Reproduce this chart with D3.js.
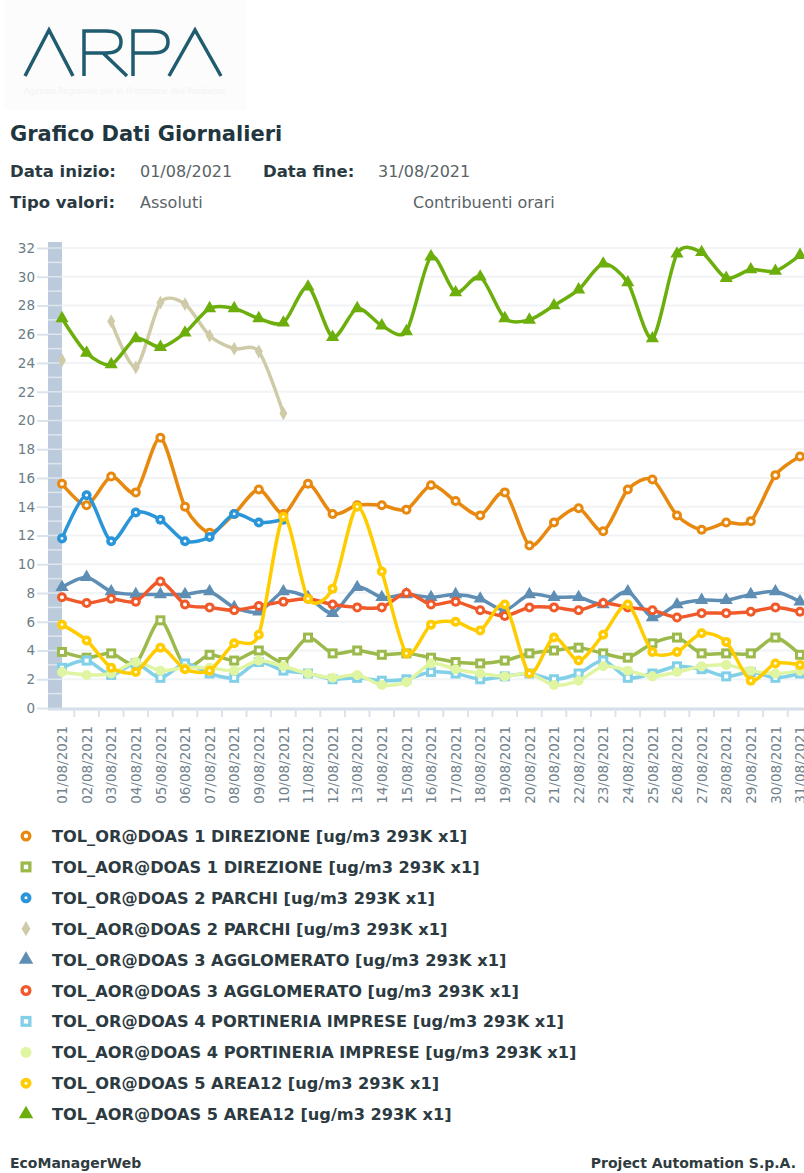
<!DOCTYPE html>
<html>
<head>
<meta charset="utf-8">
<script src="https://cdn.jsdelivr.net/npm/d3@7"></script>
<style>
  body { margin: 0; background: #fff; }
  svg { display: block; }
</style>
</head>
<body>
<svg id="chart" width="804" height="1173"></svg>
<script>
// ######################## Data #############################################
const dates = [
    "01/08/2021", "02/08/2021", "03/08/2021", "04/08/2021", "05/08/2021", "06/08/2021",
    "07/08/2021", "08/08/2021", "09/08/2021", "10/08/2021", "11/08/2021", "12/08/2021",
    "13/08/2021", "14/08/2021", "15/08/2021", "16/08/2021", "17/08/2021", "18/08/2021",
    "19/08/2021", "20/08/2021", "21/08/2021", "22/08/2021", "23/08/2021", "24/08/2021",
    "25/08/2021", "26/08/2021", "27/08/2021", "28/08/2021", "29/08/2021", "30/08/2021",
    "31/08/2021"
];
const yTicks = [0, 2, 4, 6, 8, 10, 12, 14, 16, 18, 20, 22, 24, 26, 28, 30, 32];

const torDirezione = [15.6, 14.1, 16.1, 15.0, 18.8, 14.0, 12.2, 13.5, 15.2, 13.5, 15.6, 13.5, 14.1, 14.1, 13.8, 15.5,
    14.4, 13.4, 15.0, 11.3, 12.9, 13.9, 12.3, 15.2, 15.9, 13.4, 12.4, 12.9, 13.0, 16.2, 17.5];
const taorDirezione = [3.9, 3.5, 3.8, 3.1, 6.1, 2.9, 3.7, 3.3, 4.0, 3.2, 4.9, 3.8, 4.0, 3.7, 3.8, 3.5,
    3.2, 3.1, 3.3, 3.8, 4.0, 4.2, 3.8, 3.5, 4.5, 4.9, 3.8, 3.8, 3.8, 4.9, 3.7];
const torParchi = [11.8, 14.8, 11.6, 13.6, 13.1, 11.6, 11.9, 13.5, 12.9, 13.1, null, null, null, null, null, null,
    null, null, null, null, null, null, null, null, null, null, null, null, null, null, null];
const taorParchi = [24.2, null, 26.9, 23.7, 28.2, 28.1, 25.9, 25.0, 24.8, 20.5, null, null, null, null, null, null,
    null, null, null, null, null, null, null, null, null, null, null, null, null, null, null];
const torAgglomerato = [8.4, 9.1, 8.1, 7.9, 7.9, 7.9, 8.1, 7.0, 6.7, 8.1, 7.7, 6.6, 8.4, 7.7, 7.9, 7.7,
    7.9, 7.6, 6.8, 7.9, 7.7, 7.7, 7.2, 8.1, 6.3, 7.2, 7.5, 7.5, 7.9, 8.1, 7.4];
const taorAgglomerato = [7.7, 7.3, 7.6, 7.4, 8.8, 7.2, 7.0, 6.8, 7.1, 7.4, 7.6, 7.2, 7.0, 7.0, 8.0, 7.2,
    7.4, 6.8, 6.4, 7.0, 7.0, 6.8, 7.3, 7.0, 6.8, 6.3, 6.6, 6.6, 6.7, 7.0, 6.7];
const torPortineria = [2.8, 3.3, 2.3, 3.1, 2.1, 3.1, 2.4, 2.1, 3.2, 2.6, 2.4, 2.0, 2.1, 1.9, 2.0, 2.5,
    2.4, 2.0, 2.2, 2.4, 2.0, 2.4, 3.3, 2.1, 2.4, 2.9, 2.7, 2.2, 2.5, 2.1, 2.4];
const taorPortineria = [2.5, 2.3, 2.4, 3.2, 2.6, 2.8, 2.8, 2.6, 3.3, 2.9, 2.4, 2.1, 2.3, 1.6, 1.8, 3.1,
    2.7, 2.4, 2.2, 2.4, 1.6, 1.9, 2.9, 2.6, 2.2, 2.5, 2.9, 3.0, 2.6, 2.4, 2.6];
const torArea12 = [5.8, 4.7, 2.8, 2.5, 4.2, 2.7, 2.6, 4.5, 5.1, 13.3, 7.6, 8.3, 14.0, 9.5, 3.8, 5.8,
    6.0, 5.4, 7.2, 2.4, 4.9, 3.3, 5.1, 7.2, 3.9, 3.9, 5.2, 4.6, 1.9, 3.1, 3.0];
const taorArea12 = [27.1, 24.7, 23.9, 25.7, 25.1, 26.1, 27.8, 27.8, 27.1, 26.8, 29.3, 25.8, 27.8, 26.6, 26.2, 31.4,
    28.9, 30.0, 27.1, 27.0, 28.0, 29.1, 30.9, 29.6, 25.7, 31.6, 31.7, 29.9, 30.5, 30.4, 31.5];

const seriesNames = [
    "TOL_OR@DOAS 1 DIREZIONE [ug/m3 293K x1]",
    "TOL_AOR@DOAS 1 DIREZIONE [ug/m3 293K x1]",
    "TOL_OR@DOAS 2 PARCHI [ug/m3 293K x1]",
    "TOL_AOR@DOAS 2 PARCHI [ug/m3 293K x1]",
    "TOL_OR@DOAS 3 AGGLOMERATO [ug/m3 293K x1]",
    "TOL_AOR@DOAS 3 AGGLOMERATO [ug/m3 293K x1]",
    "TOL_OR@DOAS 4 PORTINERIA IMPRESE [ug/m3 293K x1]",
    "TOL_AOR@DOAS 4 PORTINERIA IMPRESE [ug/m3 293K x1]",
    "TOL_OR@DOAS 5 AREA12 [ug/m3 293K x1]",
    "TOL_AOR@DOAS 5 AREA12 [ug/m3 293K x1]"
];
const seriesValues = [torDirezione, taorDirezione, torParchi, taorParchi, torAgglomerato,
    taorAgglomerato, torPortineria, taorPortineria, torArea12, taorArea12];
const seriesColors = ["#e8890f", "#9cba4c", "#2a95d8", "#cfcba8", "#5e8eb4",
    "#f05a2a", "#82d0e8", "#e0f5a2", "#ffcc00", "#6cae0c"];
const seriesMarkers = ["ring", "ringSquare", "dot", "diamond", "triangle",
    "ring", "ringSquare", "circle", "dot", "triangle"];

// ######################## Drawing ##########################################
const font = "DejaVu Sans";
const svg = d3.select("#chart");

// --- logo
const logo = svg.append("g");
logo.append("rect").attr("x", 4).attr("y", 0).attr("width", 242).attr("height", 110).attr("fill", "#fcfcfc");
const logoPaths = [
    "M25,76 L49,30 L73,76",
    "M84,76 L84,31 L106,31 Q121,31 121,42 Q121,53 106,53 L84,53 M103,53 L127,76",
    "M133,76 L133,31 L153,31 Q168,31 168,42 Q168,53 153,53 L133,53",
    "M169,76 L195,30 L221,76"
];
logo.selectAll("path").data(logoPaths).join("path")
    .attr("d", d => d)
    .attr("fill", "none")
    .attr("stroke", "#1f5c70")
    .attr("stroke-width", 3.5);
logo.append("text").attr("x", 24).attr("y", 94)
    .attr("font-family", font).attr("font-size", 8).attr("fill", "#f3f3f3")
    .text("Agenzia Regionale per la Protezione dell'Ambiente");

// --- header texts
svg.append("text").attr("x", 10).attr("y", 141)
    .attr("font-family", font).attr("font-size", 21).attr("font-weight", "bold").attr("fill", "#22363f")
    .text("Grafico Dati Giornalieri");

const headerItems = [
    { x: 10, y: 177, t: "Data inizio:", b: true },
    { x: 140, y: 177, t: "01/08/2021", b: false },
    { x: 263, y: 177, t: "Data fine:", b: true },
    { x: 378, y: 177, t: "31/08/2021", b: false },
    { x: 10, y: 208, t: "Tipo valori:", b: true },
    { x: 140, y: 208, t: "Assoluti", b: false },
    { x: 413, y: 208, t: "Contribuenti orari", b: false }
];
svg.selectAll("text.hdr").data(headerItems).join("text")
    .attr("class", "hdr")
    .attr("x", d => d.x).attr("y", d => d.y)
    .attr("font-family", font)
    .attr("font-size", d => d.b ? 16.5 : 16)
    .attr("font-weight", d => d.b ? "bold" : "normal")
    .attr("fill", d => d.b ? "#2b3a42" : "#5a6367")
    .text(d => d.t);

// --- scales
const x = d3.scalePoint().domain(d3.range(dates.length)).range([62, 800]);
const y = d3.scaleLinear().domain([0, 32]).range([708, 248]);
const step = x.step();

// blue band on the y axis
svg.append("rect").attr("x", 48).attr("y", 242).attr("width", 14).attr("height", 708 - 242).attr("fill", "#bccbdc");
svg.append("g").selectAll("line").data(d3.range(1, 33)).join("line")
    .attr("x1", 48).attr("x2", 62)
    .attr("y1", d => y(d)).attr("y2", d => y(d))
    .attr("stroke", "#dde6ef").attr("stroke-width", 1.5);

// grid lines
svg.append("g").selectAll("line").data(yTicks.slice(1)).join("line")
    .attr("x1", 62).attr("x2", 804)
    .attr("y1", d => y(d)).attr("y2", d => y(d))
    .attr("stroke", "#f2f3f5").attr("stroke-width", 2);

// y axis
const yAxis = svg.append("g")
    .attr("transform", "translate(48,0)")
    .call(d3.axisLeft(y).tickValues(yTicks).tickSize(11).tickPadding(2));
yAxis.select(".domain").remove();
yAxis.selectAll(".tick line").attr("stroke", "#dbe3ec").attr("stroke-width", 2);
yAxis.selectAll(".tick text")
    .attr("font-family", font).attr("font-size", 13.5).attr("fill", "#6b7d87");

// x axis
svg.append("line").attr("x1", 48).attr("x2", 804).attr("y1", 709).attr("y2", 709)
    .attr("stroke", "#d5dee9").attr("stroke-width", 3);
svg.append("g").selectAll("line").data(d3.range(dates.length)).join("line")
    .attr("x1", d => x(d) + step / 2).attr("x2", d => x(d) + step / 2)
    .attr("y1", 709).attr("y2", 717)
    .attr("stroke", "#dbe3ec").attr("stroke-width", 2);

const xAxis = svg.append("g")
    .attr("transform", "translate(0,708)")
    .call(d3.axisBottom(x).tickFormat(i => dates[i]).tickSize(0));
xAxis.select(".domain").remove();
xAxis.selectAll(".tick text")
    .attr("transform", "rotate(-90)")
    .attr("x", -18).attr("y", 0).attr("dy", "0.35em")
    .attr("text-anchor", "end")
    .attr("font-family", font).attr("font-size", 13.5).attr("fill", "#72838d");

// --- markers
function drawMarker(g, type, color, s) {
    switch (type) {
        case "ring":
            g.append("circle").attr("r", 5 * s).attr("fill", color);
            g.append("circle").attr("r", 2 * s).attr("fill", "#fff");
            break;
        case "ringSquare":
            g.append("rect").attr("x", -5 * s).attr("y", -5 * s).attr("width", 10 * s).attr("height", 10 * s).attr("fill", color);
            g.append("rect").attr("x", -2 * s).attr("y", -2 * s).attr("width", 4 * s).attr("height", 4 * s).attr("fill", "#fff");
            break;
        case "dot":
            g.append("circle").attr("r", 5 * s).attr("fill", color);
            g.append("circle").attr("r", 1.4 * s).attr("fill", "#fff");
            break;
        case "diamond":
            g.append("path").attr("d", d3.symbol(d3.symbolDiamond, 55 * s * s)()).attr("fill", color);
            break;
        case "triangle":
            g.append("path").attr("d", d3.symbol(d3.symbolTriangle, 75 * s * s)()).attr("fill", color);
            break;
        case "circle":
            g.append("circle").attr("r", 5 * s).attr("fill", color);
            break;
    }
}

// --- series
const line = d3.line()
    .defined(d => d != null)
    .x((d, i) => x(i))
    .y(d => y(d))
    .curve(d3.curveCardinal.tension(0.2));

seriesValues.forEach((values, k) => {
    const g = svg.append("g");
    g.append("path")
        .attr("d", line(values))
        .attr("fill", "none")
        .attr("stroke", seriesColors[k])
        .attr("stroke-width", 3.5);
    values.forEach((v, i) => {
        if (v == null) return;
        const m = g.append("g").attr("transform", `translate(${x(i)},${y(v)})`);
        drawMarker(m, seriesMarkers[k], seriesColors[k], 1);
    });
});

// --- legend
const legend = svg.append("g");
seriesNames.forEach((name, k) => {
    const row = legend.append("g").attr("transform", `translate(0,${836 + k * 30.9})`);
    const m = row.append("g").attr("transform", "translate(26,0)");
    drawMarker(m, seriesMarkers[k], seriesColors[k], 1.1);
    row.append("text").attr("x", 52).attr("y", 6)
        .attr("font-family", font).attr("font-size", 16.2).attr("font-weight", "bold")
        .attr("fill", "#2c3a41")
        .text(name);
});

// --- footer
svg.append("text").attr("x", 10).attr("y", 1168)
    .attr("font-family", font).attr("font-size", 14).attr("font-weight", "bold").attr("fill", "#2f3b40")
    .text("EcoManagerWeb");
svg.append("text").attr("x", 796).attr("y", 1168).attr("text-anchor", "end")
    .attr("font-family", font).attr("font-size", 14).attr("font-weight", "bold").attr("fill", "#2f3b40")
    .text("Project Automation S.p.A.");
</script>
</body>
</html>
